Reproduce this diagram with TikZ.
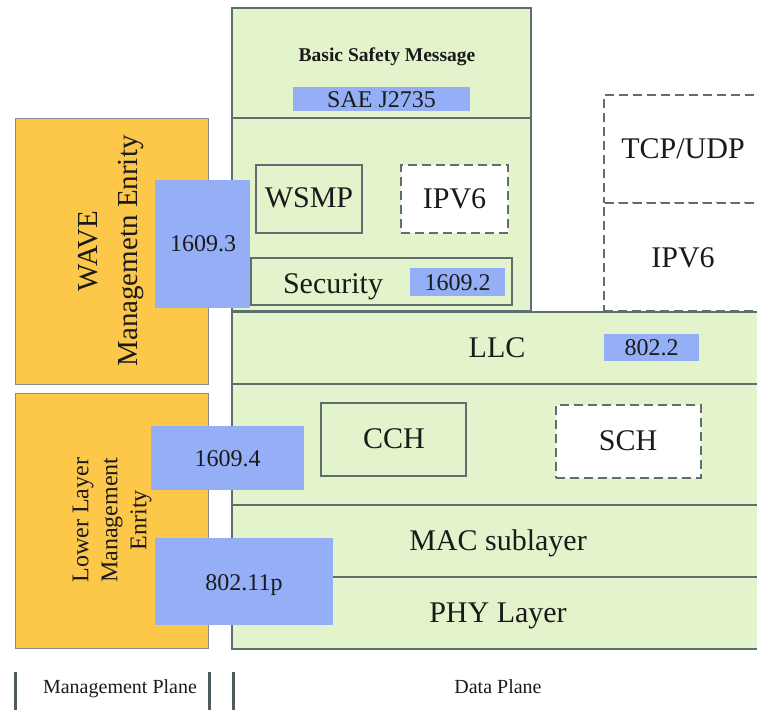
\documentclass[tikz,border=0pt]{standalone}
\usepackage{fontspec}
\setmainfont{Liberation Serif}
\usetikzlibrary{fit}
\definecolor{leaf}{HTML}{E3F3CB}
\definecolor{edge}{HTML}{5F6E6E}
\definecolor{mgmt}{HTML}{FDC74A}
\definecolor{std}{HTML}{95AFF7}
\definecolor{ink}{HTML}{1A1A1A}
\definecolor{bar}{HTML}{4E5D5F}
\begin{document}
\begin{tikzpicture}[x=1pt,y=-1pt,
  box/.style={inner sep=0pt, outer sep=0pt},
  layer/.style={box, draw=edge, line width=1.3pt, fill=leaf},
  part/.style={box, draw=edge, line width=1.3pt, fill=leaf},
  optional/.style={box, draw=edge, line width=1.5pt, dash pattern=on 9pt off 5pt, fill=white},
  stdbox/.style={box, fill=std},
  mgmtbox/.style={box, draw=edge!80, line width=1pt, fill=mgmt},
  lbl/.style={text=ink, inner sep=0pt, text depth=0pt},
  big/.style={lbl, font=\fontsize{30}{36}\selectfont, text height=20pt},
  num/.style={lbl, font=\fontsize{24}{29}\selectfont, text height=16pt},
  small/.style={lbl, font=\fontsize{20}{24}\selectfont, text height=13.3pt},
  heading/.style={lbl, font=\fontsize{19.5}{24}\selectfont\bfseries, text height=13pt},
]
\useasboundingbox (0,0) rectangle (757,709);
\clip (0,0) rectangle (757,709);

% ---- data plane: stacked layers ----
\node[layer, fit={(232,8)(531,118)}] (bsm) {};
\node[layer, fit={(232,118)(531,311)}] (upper) {};
\node[layer, fit={(232,312)(800,384)}] (llc) {};
\node[layer, fit={(232,384)(800,505)}] (chan) {};
\node[layer, fit={(232,505)(800,577)}] (mac) {};
\node[layer, fit={(232,577)(800,649)}] (phy) {};

% IP stack alongside WAVE
\node[optional, fit={(604,95)(800,203)}] (tcp) {};
\node[optional, fit={(604,203)(800,311)}] (ipstack) {};

% ---- management plane ----
\node[mgmtbox, fit={(15,118)(208,384)}] (wme) {};
\node[mgmtbox, fit={(15,393)(208,648)}] (lme) {};

% ---- inner blocks ----
\node[part, fit={(256,165)(362,233)}] (wsmp) {};
\node[optional, fit={(401,165)(508,233)}] (ipv6a) {};
\node[part, fit={(251,258)(512,305)}] (sec) {};
\node[part, fit={(321,403)(466,476)}] (cch) {};
\node[optional, fit={(556,405)(701,478)}] (sch) {};

% ---- standards ----
\node[stdbox, fit={(293,87)(470,111)}] (sae) {};
\node[stdbox, fit={(410,268)(505,296)}] (s16092) {};
\node[stdbox, fit={(155,180)(250,308)}] (s16093) {};
\node[stdbox, fit={(604,334)(699,361)}] (s8022) {};
\node[stdbox, fit={(151,426)(304,490)}] (s16094) {};
\node[stdbox, fit={(155,538)(333,625)}] (s80211p) {};

% ---- labels ----
\node[heading] (bsmtext) at (387,55) {Basic Safety Message};
\node[num] (saetext) at (381.5,99) {SAE J2735};
\node[big] (wsmptext) at (309,197) {WSMP};
\node[big] (ipv6atext) at (454.5,198) {IPV6};
\node[big] (sectext) at (333,283) {Security};
\node[num] (s16092text) at (457.5,282) {1609.2};
\node[num] (s16093text) at (203,243) {1609.3};
\node[big] (tcptext) at (683,148) {TCP/UDP};
\node[big] (ipstacktext) at (683,257) {IPV6};
\node[big] (llctext) at (497,347) {LLC};
\node[num] (s8022text) at (651.5,347.5) {802.2};
\node[big] (cchtext) at (394,438) {CCH};
\node[big] (schtext) at (628,440) {SCH};
\node[num] (s16094text) at (227.5,458) {1609.4};
\node[big] (mactext) at (498,540) {MAC sublayer};
\node[big] (phytext) at (498,612) {PHY Layer};
\node[num] (s80211ptext) at (244,582) {802.11p};

\node[rotate=90, align=center, text=ink, inner sep=0pt,
      font=\fontsize{29}{40}\selectfont] (wmetext) at (111,251)
      {WAVE\\Managemetn Enrity};
\node[rotate=90, align=center, text=ink, inner sep=0pt,
      font=\fontsize{24}{29}\selectfont] (lmetext) at (112,520)
      {Lower Layer\\Management\\Enrity};

% ---- plane markers ----
\coordinate (m1t) at (15,672);  \coordinate (m1b) at (15,712);
\coordinate (m2t) at (209,672); \coordinate (m2b) at (209,712);
\coordinate (d1t) at (233,672); \coordinate (d1b) at (233,712);
\draw[bar, line width=3pt] (m1t) -- (m1b) (m2t) -- (m2b) (d1t) -- (d1b);
\node[small] (mplane) at (120,687) {Management Plane};
\node[small] (dplane) at (498,687) {Data Plane};
\end{tikzpicture}
\end{document}
